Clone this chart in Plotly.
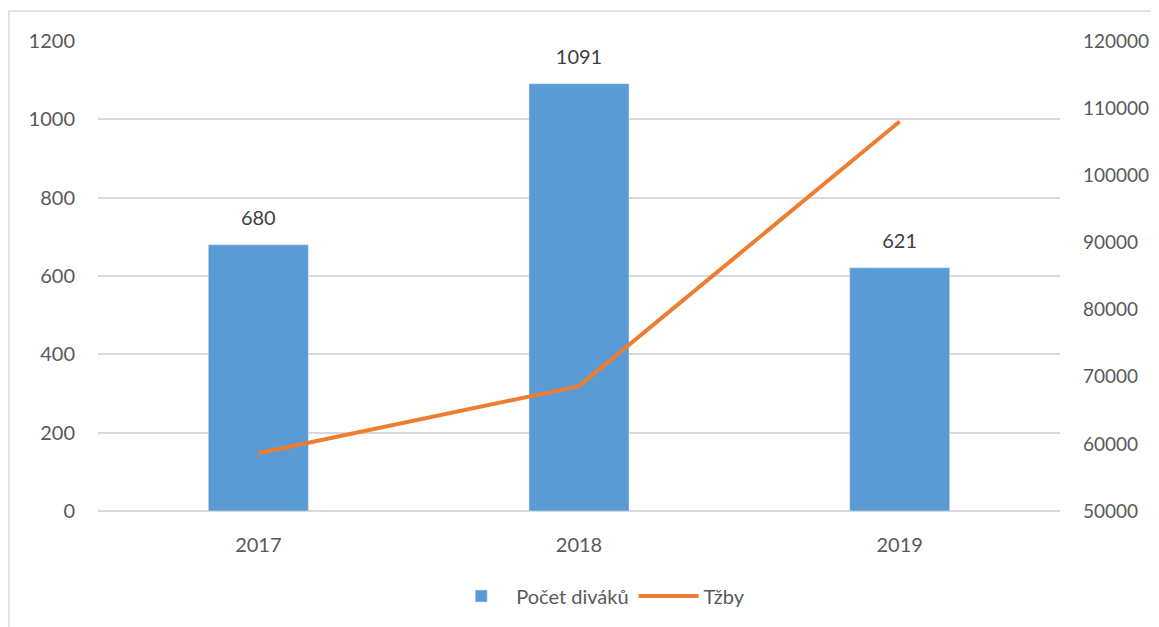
import plotly.graph_objects as go

years = ["2017", "2018", "2019"]
divaci = [680, 1091, 621]
trzby = [58600, 68600, 108000]

bar_color = "#5B9BD5"
line_color = "#ED7D31"
text_color = "#595959"
grid_color = "#D9D9D9"
font_family = "Lato, 'Open Sans', sans-serif"

fig = go.Figure()
fig.add_trace(go.Bar(
    x=years, y=divaci, name="Počet diváků", marker_color=bar_color,
    yaxis="y",
))
fig.add_trace(go.Scatter(
    x=years, y=trzby, name="Tžby", mode="lines",
    line=dict(color=line_color, width=4), yaxis="y2",
))
# data labels above bars
fig.add_trace(go.Scatter(
    x=years, y=divaci, mode="markers+text", text=[str(v) for v in divaci],
    textposition="top center", marker=dict(size=22, opacity=0),
    textfont=dict(size=20, color="#404040", family=font_family),
    showlegend=False, hoverinfo="skip", yaxis="y", cliponaxis=False,
))

# page offset of 8px (body margin) is compensated in margins
OFF = 8
W, H = 1159, 627
ml, mt = 98 - OFF, 41 - OFF
pw, ph = 962, 470
mr = W - ml - pw
mb = H - mt - ph

fig.update_layout(
    width=W, height=H,
    margin=dict(l=ml, r=mr, t=mt, b=mb),
    paper_bgcolor="white", plot_bgcolor="white",
    font=dict(family=font_family, size=20, color=text_color),
    bargap=0.688,
    showlegend=True,
    legend=dict(orientation="h", x=0.52, xanchor="center",
                y=(ph - (596 - 41)) / ph, yanchor="middle",
                font=dict(size=20, color=text_color), traceorder="normal",
                itemwidth=60),
    xaxis=dict(type="category", showgrid=False, showline=False, ticks="",
               ticklabelstandoff=20, tickfont=dict(size=20, color=text_color)),
    yaxis=dict(range=[0, 1200], dtick=200, showgrid=True, gridcolor=grid_color,
               gridwidth=1.5, zeroline=True, zerolinecolor=grid_color,
               zerolinewidth=1.5, showline=False, ticks="", ticklabelstandoff=22,
               tickfont=dict(size=20, color=text_color)),
    yaxis2=dict(range=[50000, 120000], dtick=10000, overlaying="y", side="right",
                tickformat="d",
                showgrid=False, zeroline=False, showline=False, ticks="",
                ticklabelstandoff=22, tickfont=dict(size=19, color=text_color)),
    shapes=[dict(type="rect", xref="paper", yref="paper",
                 x0=(9 - 98) / pw, x1=(W + 30 - 98) / pw,
                 y0=(ph - (H + 30 - 41)) / ph, y1=(ph - (11 - 41)) / ph,
                 line=dict(color=grid_color, width=1.5), fillcolor="rgba(0,0,0,0)",
                 layer="below")],
)

fig.write_html("out.html")
